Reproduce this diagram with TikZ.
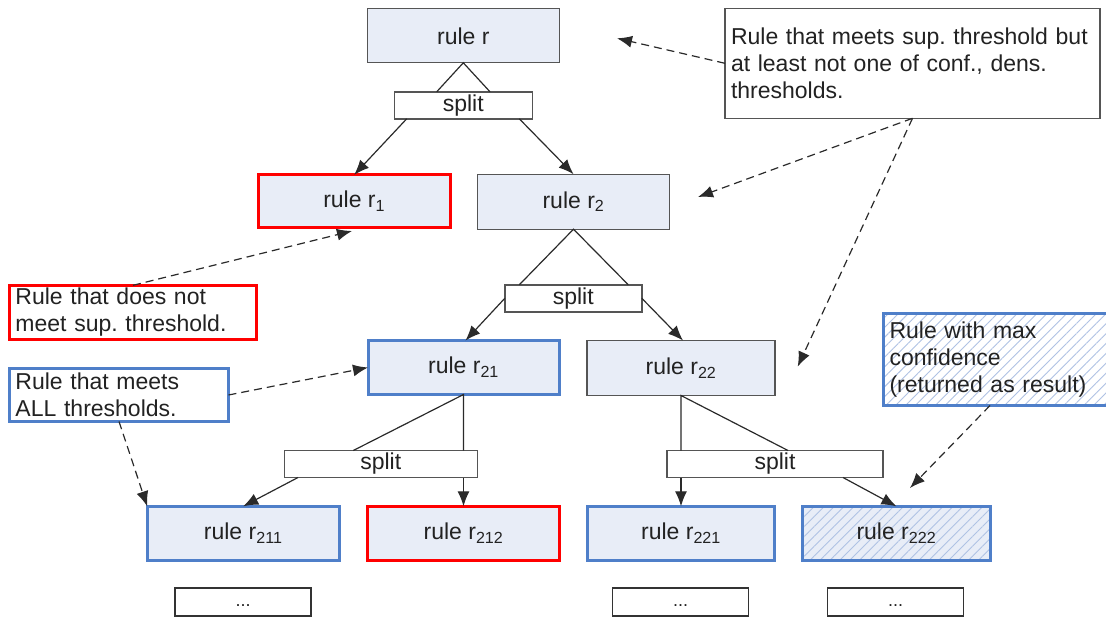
\documentclass[tikz,border=0pt]{standalone}
\usepackage{fontspec}
\setmainfont{Liberation Sans}
\usetikzlibrary{arrows.meta,patterns.meta}
\definecolor{nodefill}{HTML}{E8EDF7}
\definecolor{graybd}{HTML}{555555}
\definecolor{redbd}{HTML}{FF0000}
\definecolor{bluebd}{HTML}{4F7FC9}
\definecolor{hatchc}{HTML}{AFC2E4}
\definecolor{txtc}{HTML}{222222}
\definecolor{connc}{HTML}{2A2A2A}
\begin{document}
\frenchspacing
\begin{tikzpicture}[x=1pt,y=-1pt,
  every node/.style={font=\fontsize{23}{26.7}\selectfont, text=txtc, inner sep=0pt, outer sep=0pt},
  sz/.style 2 args={minimum width=#1, minimum height=#2},
  gbox/.style={draw=graybd, line width=1.4pt, fill=nodefill},
  rbox/.style={draw=redbd, line width=3pt, fill=nodefill},
  bbox/.style={draw=bluebd, line width=3pt, fill=nodefill},
  hbox/.style={draw=bluebd, line width=3pt, preaction={fill=nodefill},
    pattern={Lines[angle=45,distance=7pt,line width=0.9pt]}, pattern color=hatchc},
  splitbox/.style={draw=graybd, line width=1.4pt, fill=white, minimum height=27pt},
  dotbox/.style={draw=black!80, line width=1.4pt, fill=white, minimum width=136pt, minimum height=28pt,
    font=\fontsize{18}{20}\selectfont, text height=12pt, text depth=4pt},
  note/.style={align=left, inner xsep=6pt, fill=white},
  conn/.style={draw=connc, line width=1.2pt},
  arr/.style={conn, -{Latex[length=15pt,width=12pt]}},
  darr/.style={arr, dash pattern=on 8pt off 5pt},
]
\useasboundingbox (0,0) rectangle (1106,618);

% rule boxes
\node[gbox, sz={192pt}{54pt}] (rr)   at (463.3,35.8)  {rule r};
\node[splitbox, minimum width=138pt] (s1) at (463.3,105.3) {split};
\node[rbox, sz={192pt}{53pt}] (r1)   at (354.2,201.3) {rule r\textsubscript{1}};
\node[gbox, sz={192pt}{55pt}] (r2)   at (573.5,201.7) {rule r\textsubscript{2}};
\node[splitbox, minimum width=137pt] (s2) at (573.3,298.3) {split};
\node[bbox, sz={191pt}{54pt}] (r21)  at (463.5,367.5) {rule r\textsubscript{21}};
\node[gbox, sz={188pt}{55pt}] (r22)  at (681,368)     {rule r\textsubscript{22}};
\node[splitbox, minimum width=193pt] (s3) at (380.7,464) {split};
\node[splitbox, minimum width=216pt] (s4) at (775,464)   {split};
\node[bbox, sz={192pt}{54pt}] (r211) at (243.2,533.3) {rule r\textsubscript{211}};
\node[rbox, sz={192pt}{54pt}] (r212) at (463.5,533.3) {rule r\textsubscript{212}};
\node[bbox, sz={187pt}{54pt}] (r221) at (681,533.3)   {rule r\textsubscript{221}};
\node[hbox, sz={188pt}{54pt}] (r222) at (896.4,533.3) {rule r\textsubscript{222}};
\node[dotbox] (d1) at (243,602)   {...};
\node[dotbox] (d2) at (680.5,602) {...};
\node[dotbox] (d3) at (895.5,602) {...};

% callouts
\node[note, draw=graybd, line width=1.4pt, text width=363pt, minimum height=110pt] (c1) at (912.5,63.3)
  {Rule that meets sup. threshold but\\at least not one of conf., dens.\\thresholds.};
\node[note, draw=redbd, line width=3pt, text width=235pt, minimum height=54pt] (c2) at (133,312.3)
  {Rule that does not\\meet sup. threshold.};
\node[note, draw=bluebd, line width=3pt, text width=207pt, minimum height=53pt] (c3) at (119,395)
  {Rule that meets\\ALL thresholds.};
\node[note, draw=bluebd, line width=3pt, fill=none, preaction={fill=white},
  pattern={Lines[angle=45,distance=7pt,line width=0.9pt]}, pattern color=hatchc,
  text width=213pt, minimum height=92pt] (c4) at (996,359.5)
  {Rule with max\\confidence\\(returned as result)};

% free ends of the dashed pointers
\coordinate (t1) at (617,38.3);
\coordinate (t2) at (698,197);
\coordinate (t3) at (797.7,366.7);
\coordinate (t4) at (352,231);
\coordinate (t5) at (910,488);

% tree connectors
\draw[conn] ([xshift=-26.6pt]s1.north) -- (rr.south) -- ([xshift=26.7pt]s1.north);
\draw[arr] ([xshift=-56.6pt]s1.south) -- (r1.north);
\draw[arr] ([xshift=56pt]s1.south) -- (r2.north);

\draw[conn] ([xshift=-54pt]s2.north) -- (r2.south) -- ([xshift=55pt]s2.north);
\draw[arr] (s2.west) -- ([xshift=2pt]r21.north);
\draw[arr] (s2.east) -- ([xshift=2pt]r22.north);

\draw[conn] ([xshift=-27.4pt]s3.north) -- (r21.south) -- (r21.south |- s3.north);
\draw[arr] ([xshift=-82.7pt]s3.south) -- (r211.north);
\draw[arr] (r21.south |- s3.south) -- (r21.south |- r212.north);

\draw[conn] (r22.south |- s4.north) -- (r22.south) -- ([xshift=13pt]s4.north);
\draw[arr] (r22.south |- s4.south) -- (r22.south |- r221.north);
\draw[arr] ([xshift=68pt]s4.south) -- (r222.north);

% dashed pointers
\draw[darr] (c1.west) -- (t1);
\draw[darr] (c1.south) -- (t2);
\draw[darr] (c1.south) -- (t3);
\draw[darr] (c2.north) -- (t4);
\draw[darr] (c3.east) -- (r21.west);
\draw[darr] (c3.south) -- (r211.north west);
\draw[darr] ([xshift=-6pt]c4.south) -- (t5);
\end{tikzpicture}
\end{document}
